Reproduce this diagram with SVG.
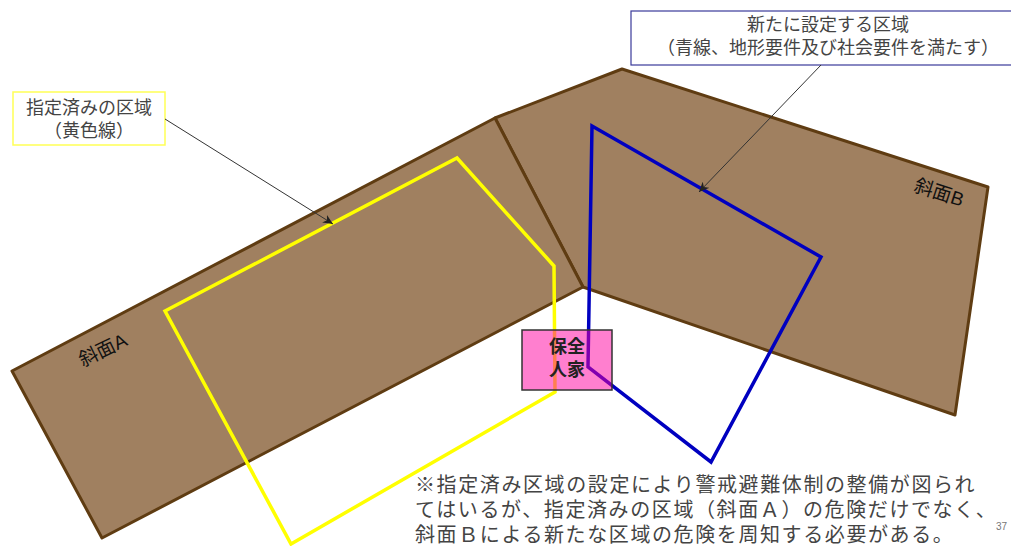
<svg xmlns="http://www.w3.org/2000/svg" width="1011" height="546" viewBox="0 0 1011 546">
<defs>
<marker id="arrow" markerWidth="11" markerHeight="9" refX="10" refY="4.5" orient="auto" markerUnits="userSpaceOnUse"><path d="M0,0 L10,4.5 L0,9 L3,4.5 Z" fill="#222"/></marker>
</defs>
<style>
text{font-family:"Liberation Sans","Noto Sans CJK JP",sans-serif;fill:#444}
.slope{fill:#a08060;stroke:#5f3c12;stroke-width:3;stroke-linejoin:round}
.lead{fill:none;stroke:#333;stroke-width:1;marker-end:url(#arrow)}
.c{text-anchor:middle;font-size:18px}
.n{font-size:20px;letter-spacing:1.6px}
.s{font-size:19px;fill:#111}
</style>
<rect width="1011" height="546" fill="#fff"/>
<g id="slope-b"><polygon class="slope" points="495,118 622,69 988,187 955,415 583,287"/><text class="s" transform="translate(913,191) rotate(18)">斜面B</text></g>
<g id="slope-a"><polygon class="slope" points="12,371 495,118 583,287 102,538"/><text class="s" transform="translate(83,367) rotate(-26)">斜面A</text></g>
<g id="zone-yellow"><polygon points="165,311 457,158 554,266 555,392 291,544" fill="none" stroke="#ffff00" stroke-width="3.5"/></g>
<g id="zone-blue"><polygon points="592,126 821,257 711,462 588,367" fill="none" stroke="#0000c0" stroke-width="3.5"/></g>
<g id="house"><rect x="522" y="330" width="90" height="60" fill="#ff00a0" fill-opacity=".5" stroke="#333" stroke-width="1.5"/><text x="567" y="353" text-anchor="middle" font-size="18" font-weight="700" style="fill:#222">保全</text><text x="567" y="376" text-anchor="middle" font-size="18" font-weight="700" style="fill:#222">人家</text></g>
<g id="label-yellow"><rect x="13" y="92" width="152" height="53" fill="#fff" stroke="#ffff55" stroke-width="1.5"/><text class="c" x="89" y="114">指定済みの区域</text><text class="c" x="89" y="137">（黄色線）</text></g>
<g id="label-blue"><rect x="631" y="11" width="390" height="54" fill="#fff" stroke="#3a3a9a" stroke-width="1.2"/><text class="c" x="828" y="31">新たに設定する区域</text><text class="c" x="828" y="54">（青線、地形要件及び社会要件を満たす）</text></g>
<g id="connectors"><line class="lead" x1="165" y1="119" x2="333" y2="224"/><line class="lead" x1="821" y1="65" x2="699" y2="192"/></g>
<g id="note"><text class="n" x="415" y="492">※指定済み区域の設定により警戒避難体制の整備が図られ</text><text class="n" x="415" y="517">てはいるが、指定済みの区域（斜面Ａ）の危険だけでなく、</text><text class="n" x="415" y="541.5">斜面Ｂによる新たな区域の危険を周知する必要がある。</text></g>
<text x="996" y="530" font-size="10" style="fill:#777">37</text>
</svg>
